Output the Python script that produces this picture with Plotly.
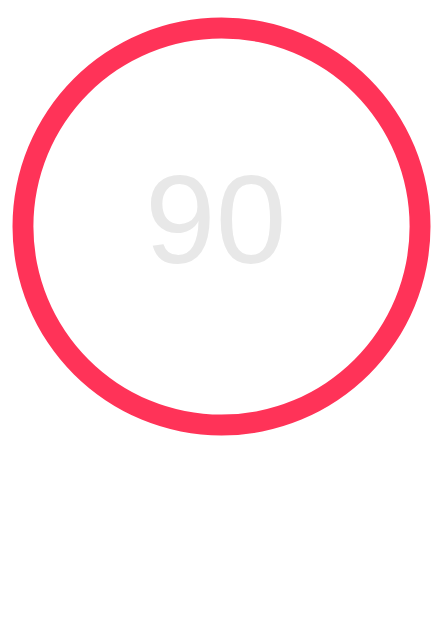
import plotly.graph_objects as go

labels = ["Score"]
values = [90]
center_text = "90"

W, H = 444, 636
cx, cy, ro = 213.5, 218.5, 209

fig = go.Figure()
fig.add_trace(go.Pie(
    labels=labels, values=values, hole=0.9, sort=False,
    marker=dict(colors=["#FF3358"], line=dict(width=0)),
    textinfo="none", hoverinfo="skip", showlegend=False,
    domain=dict(x=[(cx - ro) / W, (cx + ro) / W], y=[(H - cy - ro) / H, (H - cy + ro) / H]),
))
fig.add_annotation(
    x=207.5 / W, y=(H - 211.5) / H, xref="paper", yref="paper",
    xanchor="center", yanchor="middle",
    text=center_text, showarrow=False,
    font=dict(family="Liberation Sans", size=127, color="#E8E8E8"),
)
fig.update_layout(
    width=W, height=H, margin=dict(l=0, r=0, t=0, b=0),
    paper_bgcolor="white", plot_bgcolor="white",
)
fig.write_html("out.html")
